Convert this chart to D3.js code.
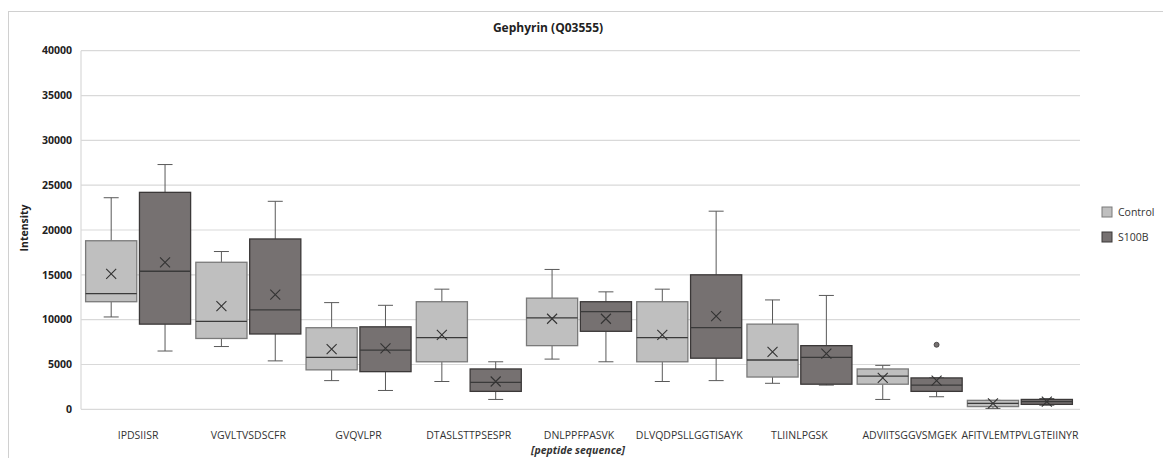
<!DOCTYPE html>
<html>
<head>
<meta charset="utf-8">
<script src="https://cdn.jsdelivr.net/npm/d3@7"></script>
<style>
  html, body { margin: 0; padding: 0; background: #fff; }
  svg { display: block; font-family: "Open Sans", "DejaVu Sans", sans-serif; }
</style>
</head>
<body>
<svg id="chart" width="1163" height="458"></svg>
<script>
// Gephyrin (Q03555) — ペプチドごとの強度 box plot(Control / S100B)

const categories = [
  "IPDSIISR", "VGVLTVSDSCFR", "GVQVLPR", "DTASLSTTPSESPR", "DNLPPFPASVK",
  "DLVQDPSLLGGTISAYK", "TLIINLPGSK", "ADVIITSGGVSMGEK", "AFITVLEMTPVLGTEIINYR"
];
const seriesNames = ["Control", "S100B"];

// [min, q1, median, q3, max, mean]
const controlStats = [
  [10300, 12000, 12900, 18800, 23600, 15100],
  [7000, 7900, 9800, 16400, 17600, 11500],
  [3200, 4400, 5800, 9100, 11900, 6700],
  [3100, 5300, 8000, 12000, 13400, 8300],
  [5600, 7100, 10200, 12400, 15600, 10100],
  [3100, 5300, 8000, 12000, 13400, 8300],
  [2900, 3600, 5500, 9500, 12200, 6400],
  [1100, 2800, 3700, 4500, 4900, 3500],
  [100, 300, 650, 1000, 1000, 650]
];
const s100bStats = [
  [6500, 9500, 15400, 24200, 27300, 16400],
  [5400, 8400, 11100, 19000, 23200, 12800],
  [2100, 4200, 6600, 9200, 11600, 6800],
  [1100, 2000, 3000, 4500, 5300, 3100],
  [5300, 8700, 10900, 12000, 13100, 10100],
  [3200, 5700, 9100, 15000, 22100, 10400],
  [2700, 2800, 5800, 7100, 12700, 6200],
  [1400, 2000, 2700, 3500, 3500, 3200],
  [450, 550, 850, 1100, 1200, 850]
];
// 外れ値 [category, series, value]
const outliers = [["ADVIITSGGVSMGEK", "S100B", 7200]];

const yTicks = d3.range(0, 40001, 5000);

// ---------- 見た目 ----------
const STYLE = {
  Control: { fill: "#bfbfbf", stroke: "#7a7a7a" },
  S100B: { fill: "#767171", stroke: "#3b3838" }
};
const plot = { left: 81, right: 1080, top: 50.7, bottom: 409.3 };

const svg = d3.select("#chart");

// 外枠
svg.append("rect")
  .attr("x", 8.5).attr("y", 11.5)
  .attr("width", 1163).attr("height", 460)
  .attr("fill", "none").attr("stroke", "#d0d0d0");

const y = d3.scaleLinear().domain([0, 40000]).range([plot.bottom, plot.top]);
const x = d3.scaleBand().domain(categories).range([83, 1075]);
const xs = d3.scaleBand().domain(seriesNames).range([0, 105]).paddingInner(0.05);

// グリッド
svg.append("g")
  .selectAll("line")
  .data(yTicks)
  .join("line")
  .attr("x1", plot.left).attr("x2", plot.right)
  .attr("y1", (d) => y(d)).attr("y2", (d) => y(d))
  .attr("stroke", "#d9d9d9").attr("stroke-width", 1.2);
svg.append("line")
  .attr("x1", plot.left).attr("x2", plot.left)
  .attr("y1", plot.top).attr("y2", plot.bottom)
  .attr("stroke", "#d9d9d9").attr("stroke-width", 1.2);

// Y 軸ラベル
svg.append("g")
  .selectAll("text")
  .data(yTicks)
  .join("text")
  .attr("x", 72).attr("y", (d) => y(d))
  .attr("dy", "0.35em")
  .attr("text-anchor", "end")
  .attr("font-size", 10.5).attr("font-weight", "bold").attr("fill", "#222")
  .text((d) => d);

// X 軸ラベル
svg.append("g")
  .selectAll("text")
  .data(categories)
  .join("text")
  .attr("x", (d) => x(d) + x.bandwidth() / 2)
  .attr("y", 439)
  .attr("text-anchor", "middle")
  .attr("font-size", 10.5).attr("fill", "#333")
  .text((d) => d);

svg.append("text")
  .attr("x", 578).attr("y", 454)
  .attr("text-anchor", "middle")
  .attr("font-size", 10.5).attr("font-style", "italic").attr("font-weight", "bold").attr("fill", "#333")
  .text("[peptide sequence]");

svg.append("text")
  .attr("transform", "translate(28,228) rotate(-90)")
  .attr("text-anchor", "middle")
  .attr("font-size", 10.5).attr("font-weight", "bold").attr("fill", "#222")
  .text("Intensity");

svg.append("text")
  .attr("x", 548).attr("y", 32)
  .attr("text-anchor", "middle")
  .attr("font-size", 12).attr("font-weight", "bold").attr("fill", "#222")
  .text("Gephyrin (Q03555)");

// ---------- ボックス ----------
const boxes = [];
categories.forEach((c, i) => {
  boxes.push({ cat: c, series: "Control", s: controlStats[i] });
  boxes.push({ cat: c, series: "S100B", s: s100bStats[i] });
});

const g = svg.append("g")
  .selectAll("g")
  .data(boxes)
  .join("g")
  .attr("transform", (d) => `translate(${x(d.cat) + (x.bandwidth() - 105) / 2 + xs(d.series)},0)`);

const bw = xs.bandwidth();
const cx = bw / 2;
const wc = "#595959";

// ヒゲ
g.append("line")
  .attr("x1", cx).attr("x2", cx)
  .attr("y1", (d) => y(d.s[4])).attr("y2", (d) => y(d.s[3]))
  .attr("stroke", wc);
g.append("line")
  .attr("x1", cx).attr("x2", cx)
  .attr("y1", (d) => y(d.s[1])).attr("y2", (d) => y(d.s[0]))
  .attr("stroke", wc);
g.append("line")
  .attr("x1", cx - 7.5).attr("x2", cx + 7.5)
  .attr("y1", (d) => y(d.s[4])).attr("y2", (d) => y(d.s[4]))
  .attr("stroke", wc);
g.append("line")
  .attr("x1", cx - 7.5).attr("x2", cx + 7.5)
  .attr("y1", (d) => y(d.s[0])).attr("y2", (d) => y(d.s[0]))
  .attr("stroke", wc);

// 箱
g.append("rect")
  .attr("x", 0).attr("width", bw)
  .attr("y", (d) => y(d.s[3]))
  .attr("height", (d) => y(d.s[1]) - y(d.s[3]))
  .attr("fill", (d) => STYLE[d.series].fill)
  .attr("stroke", (d) => STYLE[d.series].stroke)
  .attr("stroke-width", 1.3);

// 中央値
g.append("line")
  .attr("x1", 0).attr("x2", bw)
  .attr("y1", (d) => y(d.s[2])).attr("y2", (d) => y(d.s[2]))
  .attr("stroke", "#3a3a3a").attr("stroke-width", 1.3);

// 平均 (×)
g.append("path")
  .attr("d", (d) => {
    const m = y(d.s[5]);
    return `M${cx - 5},${m - 5}L${cx + 5},${m + 5}M${cx - 5},${m + 5}L${cx + 5},${m - 5}`;
  })
  .attr("stroke", "#333").attr("stroke-width", 1.1).attr("fill", "none");

// 外れ値
svg.append("g")
  .selectAll("circle")
  .data(outliers)
  .join("circle")
  .attr("cx", (d) => x(d[0]) + (x.bandwidth() - 105) / 2 + xs(d[1]) + bw / 2)
  .attr("cy", (d) => y(d[2]))
  .attr("r", 2.5)
  .attr("fill", STYLE.S100B.fill)
  .attr("stroke", STYLE.S100B.stroke).attr("stroke-width", 0.8);

// ---------- 凡例 ----------
const legend = svg.append("g")
  .selectAll("g")
  .data(seriesNames)
  .join("g")
  .attr("transform", (d, i) => `translate(1102,${207 + i * 25})`);
legend.append("rect")
  .attr("width", 10).attr("height", 10)
  .attr("fill", (d) => STYLE[d].fill)
  .attr("stroke", (d) => STYLE[d].stroke);
legend.append("text")
  .attr("x", 16).attr("y", 5).attr("dy", "0.35em")
  .attr("font-size", 10.5).attr("fill", "#333")
  .text((d) => d);
</script>
</body>
</html>
